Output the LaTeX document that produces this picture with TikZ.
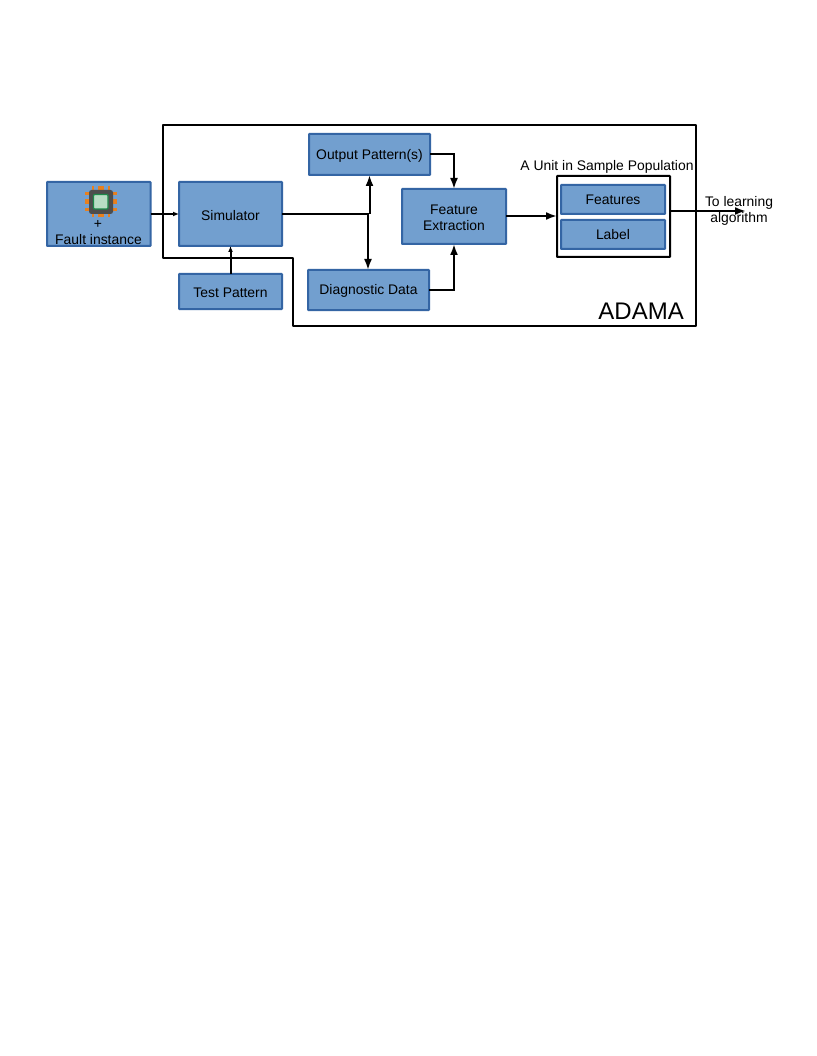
\documentclass[tikz,border=0pt]{standalone}
\usepackage{fontspec}
\setmainfont{Liberation Sans}
\usetikzlibrary{arrows.meta,calc}
\definecolor{boxfill}{HTML}{729FCF}
\definecolor{boxedge}{HTML}{3465A4}
\definecolor{chipdark}{HTML}{4D4D4D}
\definecolor{chippin}{HTML}{E8801E}
\definecolor{chipcore}{HTML}{B9DDC4}
\definecolor{chiprim}{HTML}{1E8A4A}
\newcommand{\dn}[1]{\raisebox{-1.2pt}[\height][\depth]{#1}}
\tikzset{
  x=1pt,y=-1pt,
  bluebox/.style={draw=boxedge,fill=boxfill,line width=2pt,rounded corners=0.6pt,inner sep=0pt,outer sep=0pt,align=center,anchor=north west,font=\fontsize{13.9}{16.5}\selectfont},
  wire/.style={draw=black,line width=2pt},
  arr/.style={wire,-{Latex[length=11pt,width=8pt]}},
  smallarr/.style={wire,-{Latex[length=6pt,width=5pt]}},
  plain/.style={inner sep=0pt,outer sep=0pt,font=\fontsize{13.9}{16.5}\selectfont,align=center},
  frame/.style={draw=black,line width=2pt,line join=round},
}
\begin{document}
\begin{tikzpicture}
\useasboundingbox (0,0) rectangle (816,1056);
\fill[white] (0,0) rectangle (816,1056);
% ADAMA frame
\draw[frame] (163,125) -- (696,125) -- (696,326) -- (293,326) -- (293,258) -- (163,258) -- cycle;
\node[inner sep=0pt,font=\fontsize{24}{28}\selectfont,anchor=east] (adama) at (684,311) {ADAMA};
% boxes
\node[bluebox,minimum width=103.5pt,minimum height=64pt] (fault) at (47,182) {};
\node[bluebox,minimum width=103pt,minimum height=64pt] (sim) at (179,182) {\dn{Simulator}};
\node[bluebox,minimum width=103pt,minimum height=35pt] (test) at (179,274) {\dn{Test Pattern}};
\node[bluebox,minimum width=121pt,minimum height=41pt] (out) at (309,134) {\dn{Output Pattern(s)}};
\node[bluebox,minimum width=121pt,minimum height=40pt] (diag) at (308,270) {\dn{Diagnostic Data}};
\node[bluebox,minimum width=104pt,minimum height=55pt] (feat) at (402,189) {\dn{Feature}\\\dn{Extraction}};
\node[draw=black,line width=2pt,rounded corners=0.6pt,inner sep=0pt,outer sep=0pt,anchor=north west,minimum width=113pt,minimum height=81pt] (unit) at (557,176) {};
\node[bluebox,minimum width=104pt,minimum height=29pt] (features) at (561,185) {Features};
\node[bluebox,minimum width=104pt,minimum height=29pt] (label) at (561,220) {Label};
% fault box content
\node[plain] (plus) at (98,224.5) {+};
\node[plain] (faulttxt) at (98.5,239.5) {Fault instance};
% chip icon
\foreach \d/\w in {-8/1.3,0/2.6,8/1.3}{
  \fill[chippin] (101+\d-\w,186) rectangle (101+\d+\w,190.5);
  \fill[chippin] (101+\d-\w,213) rectangle (101+\d+\w,217);
  \fill[chippin] (85,201.5+\d-\w) rectangle (89.5,201.5+\d+\w);
  \fill[chippin] (112.5,201.5+\d-\w) rectangle (117,201.5+\d+\w);
}
\fill[chipdark,rounded corners=2.5pt] (89,190) rectangle (113,214);
\draw[chiprim,fill=chipcore,line width=1.2pt,rounded corners=1pt] (93.5,194.5) rectangle (108,209);
% labels
\node[plain] (unitlbl) at (607,167) {A Unit in Sample Population};
% connectors
\coordinate (junc) at (369,214);
\coordinate (outin) at (369.5,175);
\coordinate (diagin) at (368,270);
\draw[smallarr] (fault.east |- 0,214) -- (sim.west |- 0,214);
\draw[wire] (sim.east |- 0,214) -- (junc);
\draw[arr] (outin |- junc) -- (outin);
\draw[arr] (diagin |- junc) -- (diagin);
\draw[smallarr] (test.north) -- (sim.south);
\draw[arr] (out.east) -| (feat.north);
\draw[arr] (diag.east) -| (feat.south);
\draw[arr] (feat.east |- 0,216) -- (unit.west |- 0,216);
\coordinate (learnend) at (746,211);
\draw[arr] (unit.east |- 0,211) -- (learnend);
\node[plain] (learn) at (739,211) {To learning\\algorithm};
\end{tikzpicture}
\end{document}
